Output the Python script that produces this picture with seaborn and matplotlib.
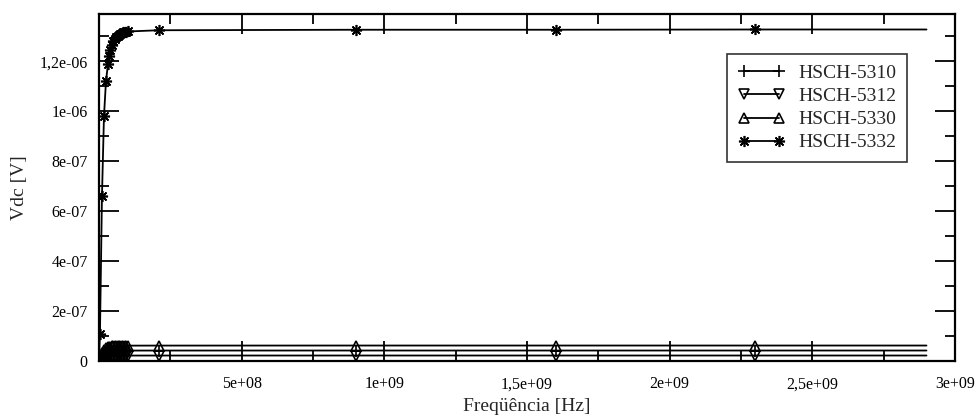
import matplotlib
matplotlib.use("Agg")
import matplotlib.pyplot as plt
from matplotlib.ticker import MultipleLocator, FixedLocator
import pandas as pd
import seaborn as sns

# frequency sweep [Hz]
freq = [0, 3.5e6, 1.05e7, 1.75e7, 2.45e7, 3.15e7, 3.5e7, 4e7, 4.5e7, 5e7, 5.5e7, 6e7, 6.5e7,
        7e7, 7.5e7, 8e7, 8.5e7, 9e7, 9.5e7, 1e8, 2.1e8, 9e8, 1.6e9, 2.3e9, 2.9e9]

# Vdc [V] per diode
v5310 = [0, 0.35e-8, 2.1e-8, 3.1e-8, 3.55e-8, 3.75e-8, 3.85e-8, 3.95e-8, 4.0e-8, 4.05e-8, 4.08e-8,
         4.1e-8, 4.12e-8, 4.13e-8, 4.14e-8, 4.15e-8, 4.16e-8, 4.17e-8, 4.17e-8, 4.18e-8, 4.19e-8,
         4.2e-8, 4.2e-8, 4.2e-8, 4.2e-8]
v5312 = [0, 0.2e-8, 1.1e-8, 1.65e-8, 1.85e-8, 1.95e-8, 2.0e-8, 2.05e-8, 2.08e-8, 2.1e-8, 2.12e-8,
         2.13e-8, 2.14e-8, 2.15e-8, 2.16e-8, 2.16e-8, 2.17e-8, 2.17e-8, 2.18e-8, 2.18e-8, 2.19e-8,
         2.2e-8, 2.2e-8, 2.2e-8, 2.2e-8]
v5330 = [0, 0.5e-8, 3.1e-8, 4.6e-8, 5.2e-8, 5.5e-8, 5.65e-8, 5.8e-8, 5.9e-8, 5.95e-8, 6.0e-8,
         6.03e-8, 6.06e-8, 6.08e-8, 6.1e-8, 6.12e-8, 6.13e-8, 6.14e-8, 6.15e-8, 6.16e-8, 6.18e-8,
         6.2e-8, 6.2e-8, 6.2e-8, 6.2e-8]
v5332 = [0, 1.1e-7, 6.6e-7, 9.8e-7, 1.12e-6, 1.19e-6, 1.22e-6, 1.245e-6, 1.265e-6, 1.28e-6, 1.29e-6,
         1.297e-6, 1.303e-6, 1.307e-6, 1.311e-6, 1.314e-6, 1.316e-6, 1.318e-6, 1.319e-6, 1.32e-6,
         1.325e-6, 1.327e-6, 1.327e-6, 1.328e-6, 1.328e-6]

series_names = ["HSCH-5310", "HSCH-5312", "HSCH-5330", "HSCH-5332"]

x_ticks = [5e8, 1e9, 1.5e9, 2e9, 2.5e9, 3e9]
x_labels = ["5e+08", "1e+09", "1,5e+09", "2e+09", "2,5e+09", "3e+09"]
y_ticks = [0, 2e-7, 4e-7, 6e-7, 8e-7, 1e-6, 1.2e-6]
y_labels = ["0", "2e-07", "4e-07", "6e-07", "8e-07", "1e-06", "1,2e-06"]

sns.set_style("ticks")
plt.rcParams["font.family"] = ["Liberation Serif", "DejaVu Serif"]

fig = plt.figure(figsize=(9.77, 4.16), dpi=100)
ax = fig.add_axes([0.1013, 0.1322, 0.8762, 0.8341])

styles = {
    "HSCH-5310": dict(marker="+", markersize=8, mfc="black"),
    "HSCH-5312": dict(marker="v", markersize=6.5, mfc="none"),
    "HSCH-5330": dict(marker="^", markersize=6.5, mfc="none"),
    "HSCH-5332": dict(marker=(8, 2, 0), markersize=8, mfc="black"),
}
values = [v5310, v5312, v5330, v5332]

for name, vals in zip(series_names, values):
    df = pd.DataFrame({"f": freq, "v": vals})
    st = styles[name]
    sns.lineplot(data=df, x="f", y="v", ax=ax, color="black", linewidth=1.3,
                 marker=st["marker"], markersize=st["markersize"],
                 markerfacecolor=st["mfc"], markeredgecolor="black",
                 markeredgewidth=1.2, markevery=list(range(len(freq) - 1)),
                 label=name)

ax.set_xlim(0, 3e9)
ax.set_ylim(0, 1.39e-6)
ax.xaxis.set_major_locator(FixedLocator(x_ticks))
ax.set_xticklabels(x_labels)
ax.yaxis.set_major_locator(FixedLocator(y_ticks))
ax.set_yticklabels(y_labels)
ax.xaxis.set_minor_locator(MultipleLocator(2.5e8))
ax.yaxis.set_minor_locator(MultipleLocator(1e-7))

ax.tick_params(which="both", direction="in", top=True, right=True, width=1.3,
               colors="black", labelsize=11.5)
ax.tick_params(which="major", length=14.5)
ax.tick_params(which="minor", length=7.5)
ax.tick_params(axis="x", pad=11)
ax.tick_params(axis="y", pad=8)
for sp in ax.spines.values():
    sp.set_visible(True)
    sp.set_linewidth(1.6)
    sp.set_color("black")

ax.set_xlabel("Freqüência [Hz]", fontsize=14, labelpad=4)
ax.set_ylabel("Vdc [V]", fontsize=14, labelpad=8)

leg = ax.legend(loc="upper right", bbox_to_anchor=(0.944, 0.885), borderaxespad=0,
                fontsize=14, numpoints=2, handlelength=2.4, handletextpad=0.7,
                labelspacing=0.28, frameon=True, fancybox=False, borderpad=0.55)
leg.get_frame().set_edgecolor("black")
leg.get_frame().set_linewidth(1.2)

fig.savefig("out.png", dpi=100)
